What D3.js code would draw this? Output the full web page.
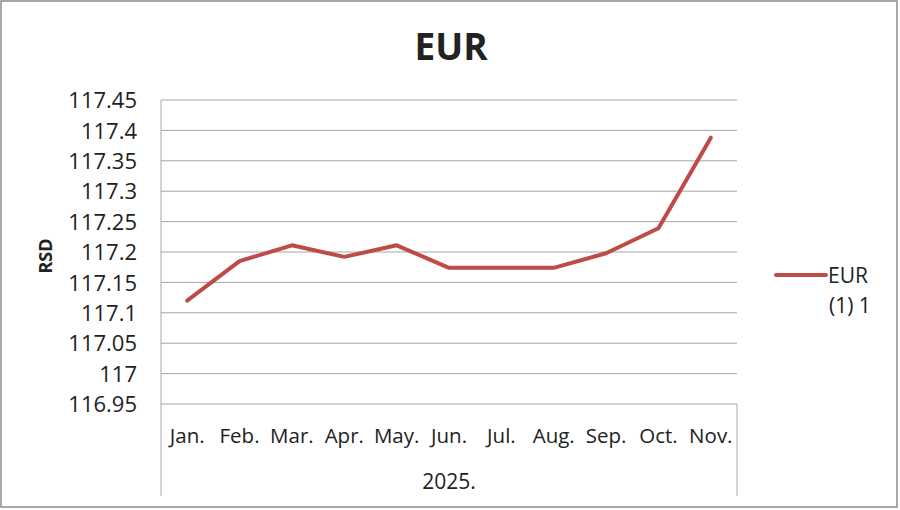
<!DOCTYPE html>
<html><head><meta charset="utf-8">
<script src="https://cdn.jsdelivr.net/npm/d3@7"></script>
<style>body{margin:0;background:#fff}svg{display:block}text{font-family:"Open Sans",Calibri,sans-serif;fill:#222}</style>
</head><body><svg id="c" width="900" height="510"></svg>
<script>
const months = ["Jan.","Feb.","Mar.","Apr.","May.","Jun.","Jul.","Aug.","Sep.","Oct.","Nov."];
const eurValues = [117.12,117.185,117.211,117.192,117.211,117.174,117.174,117.174,117.198,117.239,117.388];
const yTicks = [116.95,117,117.05,117.1,117.15,117.2,117.25,117.3,117.35,117.4,117.45];
const yearLabel = "2025.";
const seriesName = ["EUR","(1) 1"];

const svg = d3.select("#c");
const L=161,R=737,T=100,B=404;
svg.append("rect").attr("x",1).attr("y",1).attr("width",896).attr("height",506)
  .attr("fill","#fff").attr("stroke","#8a8a8a").attr("stroke-width",1.5);

const x = d3.scaleBand().domain(months).range([L,R]);
const y = d3.scaleLinear().domain([116.95,117.45]).range([B,T]);

svg.append("g").selectAll("line").data(yTicks).join("line")
  .attr("x1",L).attr("x2",R).attr("y1",d=>y(d)).attr("y2",d=>y(d))
  .attr("stroke","#a6a6a6").attr("stroke-width",1);
svg.append("line").attr("x1",L).attr("x2",L).attr("y1",T).attr("y2",496).attr("stroke","#a6a6a6");
svg.append("line").attr("x1",R).attr("x2",R).attr("y1",B).attr("y2",496).attr("stroke","#a6a6a6");

const yAxis = d3.axisLeft(y).tickValues(yTicks).tickSize(0).tickPadding(0).tickFormat(d=>String(+d.toFixed(2)));
const ya = svg.append("g").attr("transform",`translate(${L-24},0)`).call(yAxis);
ya.select(".domain").remove();
ya.selectAll("text").attr("font-size",22).attr("dy","0.35em").style("font-family",'"Open Sans",sans-serif').attr("fill","#222");

const xAxis = d3.axisBottom(x).tickSize(0).tickPadding(0);
const xa = svg.append("g").attr("transform",`translate(0,${436})`).call(xAxis);
xa.select(".domain").remove();
xa.selectAll("text").attr("font-size",20.5).attr("dy","0.35em").attr("y",0).style("font-family",'"Open Sans",sans-serif').attr("fill","#222");

svg.append("text").attr("x",(L+R)/2).attr("y",489).attr("text-anchor","middle").attr("font-size",21).text(yearLabel);

svg.append("path").datum(eurValues)
  .attr("d",d3.line().x((d,i)=>x(months[i])+x.bandwidth()/2).y(d=>y(d)))
  .attr("fill","none").attr("stroke","#be4b48").attr("stroke-width",4).attr("stroke-linejoin","round").attr("stroke-linecap","round");

svg.append("text").attr("x",451).attr("y",60).attr("text-anchor","middle").attr("font-size",37).attr("font-weight","bold").attr("fill","#111").text("EUR");
svg.append("text").attr("transform","translate(52,256) rotate(-90)").attr("text-anchor","middle").attr("font-size",18).attr("font-weight","bold").text("RSD");

svg.append("line").attr("x1",776).attr("x2",826).attr("y1",275).attr("y2",275).attr("stroke","#be4b48").attr("stroke-width",4).attr("stroke-linecap","round");
svg.append("text").attr("x",828).attr("y",283).attr("font-size",21).text(seriesName[0]);
svg.append("text").attr("x",829).attr("y",313).attr("font-size",21).text(seriesName[1]);
</script></body></html>
